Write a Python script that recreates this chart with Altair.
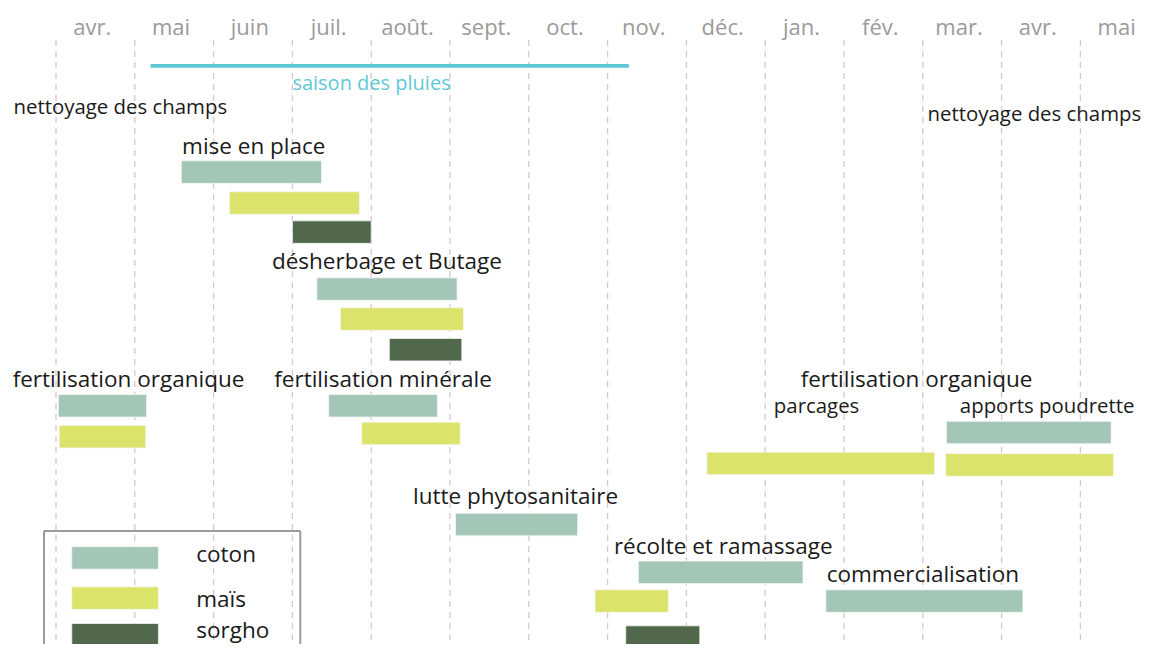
import altair as alt
import pandas as pd

# ---------------- data ----------------
# month columns (0 = start of the first "avr.")
months = ["avr.", "mai", "juin", "juil.", "août.", "sept.", "oct.", "nov.",
          "déc.", "jan.", "fév.", "mar.", "avr.", "mai"]
month_bounds = list(range(15))

crops = ["coton", "maïs", "sorgho"]
crop_colors = ["#a3c6b7", "#dbe36a", "#52684c"]

# activity bars: crop, start month, end month, lane (vertical row position)
bar_crop = ["coton", "maïs", "sorgho",            # mise en place
            "coton", "maïs", "sorgho",            # désherbage et Butage
            "coton", "maïs",                      # fertilisation organique
            "coton", "maïs",                      # fertilisation minérale
            "coton", "maïs", "maïs",              # apports poudrette / parcages
            "coton",                              # lutte phytosanitaire
            "coton", "maïs", "sorgho",            # récolte et ramassage
            "coton"]                              # commercialisation
bar_start = [1.59, 2.20, 3.00,
             3.31, 3.61, 4.23,
             0.03, 0.04,
             3.46, 3.88,
             11.30, 8.26, 11.29,
             5.07,
             7.39, 6.84, 7.23,
             9.77]
bar_end = [3.37, 3.85, 4.00,
           5.09, 5.17, 5.15,
           1.15, 1.14,
           4.84, 5.13,
           13.39, 11.15, 13.42,
           6.62,
           9.48, 7.77, 8.17,
           12.27]
bar_lane = [5.47, 6.50, 7.47,
            9.37, 10.37, 11.39,
            13.26, 14.29,
            13.26, 14.18,
            14.15, 15.18, 15.23,
            17.22,
            18.81, 19.77, 20.97,
            19.77]

# activity labels (large)
label_text = ["mise en place", "désherbage et Butage", "fertilisation organique",
              "fertilisation minérale", "fertilisation organique",
              "lutte phytosanitaire", "récolte et ramassage", "commercialisation"]
label_x = [1.60, 2.74, -0.55, 2.77, 9.45, 4.53, 7.08, 9.78]
label_lane = [4.85, 8.71, 12.62, 12.62, 12.62, 16.53, 18.21, 19.14]

# activity labels (small)
small_text = ["nettoyage des champs", "nettoyage des champs", "parcages",
              "apports poudrette"]
small_x = [-0.54, 11.06, 9.11, 11.47]
small_lane = [3.53, 3.77, 13.49, 13.51]

# rainy season
rain_start, rain_end, rain_lane = [1.20], [7.27], [1.93]
rain_label = ["saison des pluies"]
rain_label_x, rain_label_lane = [3.0], [2.73]

# legend
legend_lane = [18.33, 19.67, 20.89]
legend_label_lane = [18.46, 19.96, 21.0]

# ---------------- layout ----------------
W, H = 1144, 636
PX_PER_MONTH = 78.8
X0 = -0.6091
X1 = X0 + W / PX_PER_MONTH
Y1 = H / 30
HALF = 0.375
FONT = "Open Sans"

xs = alt.Scale(domain=[X0, X1], nice=False, zero=False)
ys = alt.Scale(domain=[0, Y1], nice=False, zero=False, reverse=True)

bars_df = pd.DataFrame({"crop": bar_crop, "start": bar_start,
                        "end": bar_end, "lane": bar_lane})
labels_df = pd.DataFrame({"text": label_text, "x": label_x, "lane": label_lane})
small_df = pd.DataFrame({"text": small_text, "x": small_x, "lane": small_lane})
month_df = pd.DataFrame({"m": months, "pos": [i + 0.46 for i in range(len(months))]})
grid_df = pd.DataFrame({"b": month_bounds})
rain_df = pd.DataFrame({"s": rain_start, "e": rain_end, "lane": rain_lane})
rain_lab_df = pd.DataFrame({"t": rain_label, "x": rain_label_x, "lane": rain_label_lane})
leg_df = pd.DataFrame({"crop": crops, "lane": legend_lane,
                       "llane": legend_label_lane})

color = alt.Color("crop:N", scale=alt.Scale(domain=crops, range=crop_colors),
                  legend=None)

grid = alt.Chart(grid_df).mark_rule(
    color="#dcc5cd", strokeWidth=1.3, strokeDash=[6, 5], clip=True
).encode(
    x=alt.X("b:Q", scale=xs, axis=None),
    y=alt.datum(1.07, scale=ys),
    y2=alt.datum(Y1),
)

month_text = alt.Chart(month_df).mark_text(
    font=FONT, fontSize=22, color="#9a9a9a", align="center",
    baseline="alphabetic"
).encode(
    x=alt.X("pos:Q", scale=xs, axis=None),
    y=alt.datum(0.9, scale=ys),
    text="m:N",
)

rain = alt.Chart(rain_df).mark_rule(color="#5fc8d7", strokeWidth=3.6).encode(
    x=alt.X("s:Q", scale=xs, axis=None),
    x2="e:Q",
    y=alt.Y("lane:Q", scale=ys, axis=None),
)

rain_text = alt.Chart(rain_lab_df).mark_text(
    font=FONT, fontSize=20, color="#5fc8d7", align="left", baseline="alphabetic"
).encode(
    x=alt.X("x:Q", scale=xs, axis=None),
    y=alt.Y("lane:Q", scale=ys, axis=None),
    text="t:N",
)

bars = alt.Chart(bars_df).transform_calculate(
    y0=f"datum.lane - {HALF}", y1=f"datum.lane + {HALF}"
).mark_rect(stroke="#f4f7f2", strokeWidth=0.8, clip=True).encode(
    x=alt.X("start:Q", scale=xs, axis=None),
    x2="end:Q",
    y=alt.Y("y0:Q", scale=ys, axis=None),
    y2="y1:Q",
    color=color,
)

labels = alt.Chart(labels_df).mark_text(
    font=FONT, fontSize=22.5, color="#1a1a1a", align="left",
    baseline="alphabetic"
).encode(
    x=alt.X("x:Q", scale=xs, axis=None),
    y=alt.Y("lane:Q", scale=ys, axis=None),
    text="text:N",
)

small_labels = alt.Chart(small_df).mark_text(
    font=FONT, fontSize=20.4, color="#1a1a1a", align="left",
    baseline="alphabetic"
).encode(
    x=alt.X("x:Q", scale=xs, axis=None),
    y=alt.Y("lane:Q", scale=ys, axis=None),
    text="text:N",
)

# legend box (top, left, right edges; bottom runs off the page)
box_left, box_right, box_top = -0.152, 3.10, 17.43
box_h = alt.Chart(pd.DataFrame({"a": [box_left]})).mark_rule(
    color="#9a9a9a", strokeWidth=2).encode(
    x=alt.X("a:Q", scale=xs, axis=None), x2=alt.datum(box_right),
    y=alt.datum(box_top, scale=ys))
box_v = alt.Chart(pd.DataFrame({"a": [box_left, box_right]})).mark_rule(
    color="#9a9a9a", strokeWidth=2, clip=True).encode(
    x=alt.X("a:Q", scale=xs, axis=None),
    y=alt.datum(box_top, scale=ys), y2=alt.datum(Y1))

leg_sw = alt.Chart(leg_df).transform_calculate(
    y0=f"datum.lane - {HALF}", y1=f"datum.lane + {HALF}"
).mark_rect(stroke="#f4f7f2", strokeWidth=0.8, clip=True).encode(
    x=alt.datum(0.20, scale=xs), x2=alt.datum(1.30),
    y=alt.Y("y0:Q", scale=ys, axis=None), y2="y1:Q",
    color=color,
)
leg_txt = alt.Chart(leg_df).mark_text(
    font=FONT, fontSize=22.5, color="#1a1a1a", align="left", baseline="alphabetic"
).encode(
    x=alt.datum(1.78, scale=xs),
    y=alt.Y("llane:Q", scale=ys, axis=None),
    text="crop:N",
)

chart = alt.layer(
    grid, month_text, rain, rain_text, bars, labels, small_labels,
    box_h, box_v, leg_sw, leg_txt
).properties(
    width=W, height=H, padding=0, background="white"
).configure_view(stroke=None).configure_axis(disable=True)

chart.save("out.html", embed_options={"renderer": "svg", "actions": False})
